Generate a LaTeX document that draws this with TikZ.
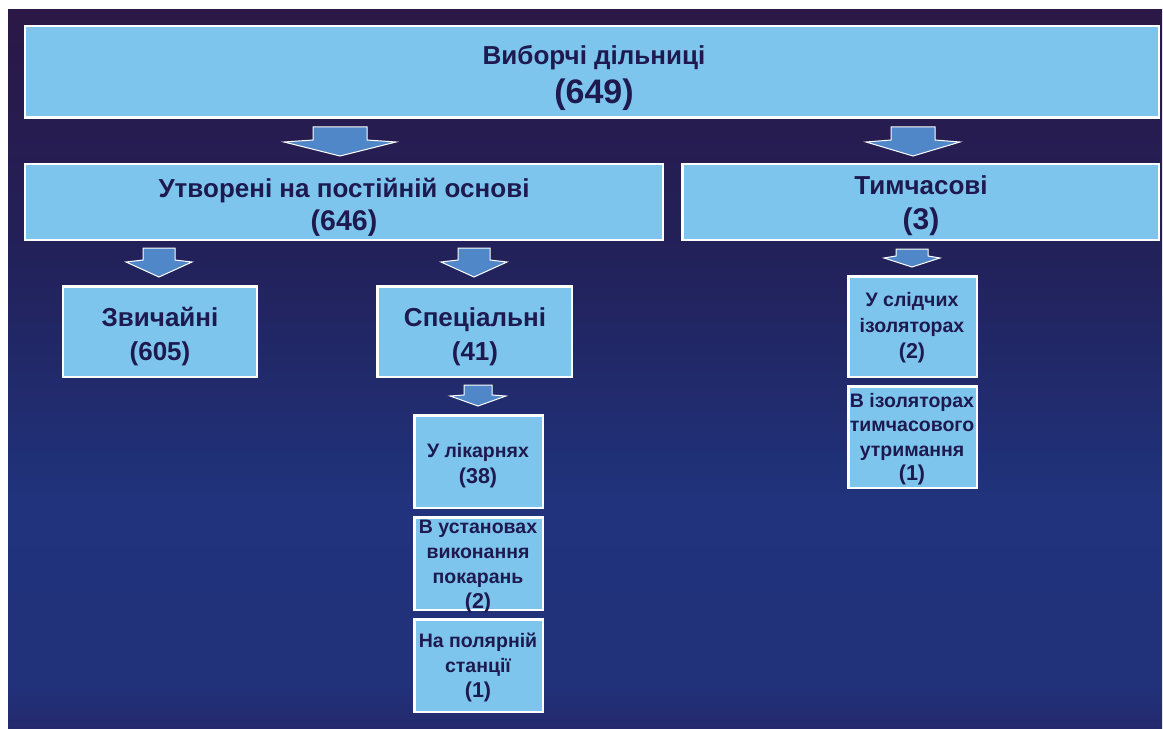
\documentclass[tikz,border=0pt]{standalone}
\usepackage{fontspec}
\setmainfont{Liberation Sans}
\definecolor{boxblue}{HTML}{7DC5ED}
\definecolor{txtnavy}{HTML}{1E1A50}
\definecolor{arrowblue}{HTML}{4F87C8}
\definecolor{bgtop}{HTML}{2B1846}
\definecolor{bgup}{HTML}{281A4C}
\definecolor{bgmid}{HTML}{22215A}
\definecolor{bglow}{HTML}{20337C}
\definecolor{bglow2}{HTML}{21317A}
\definecolor{bgbot}{HTML}{242A6C}
\pgfdeclareverticalshading{bgshade}{100bp}{color(0bp)=(bgbot); color(25bp)=(bgbot); color(28bp)=(bglow2); color(41bp)=(bglow); color(58bp)=(bgmid); color(70bp)=(bgup); color(75bp)=(bgtop); color(100bp)=(bgtop)}
\newcommand\blockarrow[7]{%
  \filldraw[arrowstyle] ({#1-#3},#2) -- ({#1+#3},#2) -- ({#1+#3},#4) -- ({#1+#5},#6) -- (#1,#7) -- ({#1-#5},#6) -- ({#1-#3},#4) -- cycle;}
\tikzset{
  box/.style={rectangle, draw=white, line width=2.5bp, fill=boxblue, inner sep=0pt, outer sep=0pt},
  big/.style={text=txtnavy, align=center, font=\bfseries\fontsize{26bp}{33bp}\selectfont, inner sep=0pt},
  small/.style={text=txtnavy, align=center, font=\bfseries\fontsize{19.5bp}{25bp}\selectfont, inner sep=0pt},
  arrowstyle/.style={fill=arrowblue, draw=white, line width=1bp, line join=miter},
}
\begin{document}
\begin{tikzpicture}[x=1bp,y=-1bp]
\useasboundingbox (0,0) rectangle (1163,729);
\fill[white] (0,0) rectangle (1163,729);
\shade[shading=bgshade] (8,10) rectangle (1162,729);

% boxes
\node[box, minimum width=1133.5bp, minimum height=91.5bp] (top) at (592,72) {};
\node[box, minimum width=637.5bp, minimum height=75.5bp] (perm) at (344,202) {};
\node[box, minimum width=476.5bp, minimum height=75.5bp] (temp) at (920.5,202) {};
\node[box, minimum width=193.5bp, minimum height=90.5bp] (ord) at (160,331.5) {};
\node[box, minimum width=194.5bp, minimum height=90.5bp] (spec) at (474.5,331.5) {};
\node[box, minimum width=128.5bp, minimum height=92.5bp] (hosp) at (478.5,461.5) {};
\node[box, minimum width=128.5bp, minimum height=92.5bp] (pen) at (478.5,563.5) {};
\node[box, minimum width=128.5bp, minimum height=92.5bp] (polar) at (478.5,665.5) {};
\node[box, minimum width=128.5bp, minimum height=100.5bp] (sizo) at (912.5,326.5) {};
\node[box, minimum width=128.5bp, minimum height=101.5bp] (itt) at (912.5,437) {};

% texts
\node[big, font=\bfseries\fontsize{26bp}{39bp}\selectfont] (ttop) at (594,78) {Виборчі дільниці\\{\fontsize{34bp}{39bp}\selectfont (649)}};
\node[big, font=\bfseries\fontsize{26bp}{33bp}\selectfont] (tperm) at (344,207) {Утворені на постійній основі\\{\fontsize{28.5bp}{33bp}\selectfont (646)}};
\node[big, font=\bfseries\fontsize{26bp}{35bp}\selectfont] (ttemp) at (921,206) {Тимчасові\\{\fontsize{30bp}{35bp}\selectfont (3)}};
\node[big, font=\bfseries\fontsize{26bp}{34bp}\selectfont] (tord) at (160,337) {Звичайні\\(605)};
\node[big, font=\bfseries\fontsize{26bp}{34bp}\selectfont] (tspec) at (475,337) {Спеціальні\\(41)};
\node[small, font=\bfseries\fontsize{19.5bp}{26bp}\selectfont] (thosp) at (478,466) {У лікарнях\\{\fontsize{21.5bp}{26bp}\selectfont (38)}};
\node[small, font=\bfseries\fontsize{19.5bp}{25bp}\selectfont] (tpen) at (478,567) {В установах\\виконання\\покарань\\{\fontsize{21.5bp}{25bp}\selectfont (2)}};
\node[small] (tpolar) at (478,667) {На полярній\\станції\\{\fontsize{21.5bp}{25bp}\selectfont (1)}};
\node[small, font=\bfseries\fontsize{19.5bp}{26bp}\selectfont] (tsizo) at (912,328) {У слідчих\\ізоляторах\\{\fontsize{21.5bp}{26bp}\selectfont (2)}};
\node[small, font=\bfseries\fontsize{19.5bp}{24.5bp}\selectfont] (titt) at (912,439) {В ізоляторах\\тимчасового\\утримання\\{\fontsize{21.5bp}{24.5bp}\selectfont (1)}};

% block arrows
\blockarrow{340}{127}{27}{140}{56}{142}{156}
\blockarrow{913}{127}{22}{140}{47}{142}{156}
\blockarrow{159}{248}{16}{260}{33}{262}{277}
\blockarrow{474}{248}{16}{260}{33}{262}{277}
\blockarrow{912}{249}{16}{256}{28}{258}{267}
\blockarrow{478}{385}{14}{395}{28}{396}{406}
\end{tikzpicture}
\end{document}
